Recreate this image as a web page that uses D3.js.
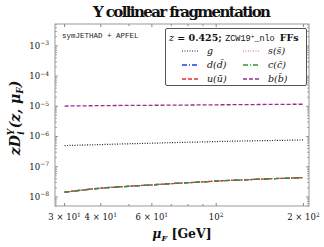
<!DOCTYPE html>
<html>
<head>
<meta charset="utf-8">
<script src="https://cdn.jsdelivr.net/npm/d3@7"></script>
<style>
  body { margin: 0; background: #fff; }
  svg { display: block; }
  .serif { font-family: "DejaVu Serif", "Liberation Serif", serif; }
  .mono { font-family: "Liberation Mono", "DejaVu Sans Mono", monospace; }
</style>
</head>
<body>
<div id="graphic"></div>
<script>
(function() {
  var W = 324, H = 247;
  var margin = { top: 24, left: 55, right: 15, bottom: 41 },
  width = W - margin.left - margin.right,
  height = H - margin.top - margin.bottom;

  /*** DATA ***/
  var muF = [30, 40, 50, 60, 70, 80, 90, 100, 120, 140, 160, 180, 200];
  var gluon = [5.0e-7, 5.4e-7, 5.75e-7, 6.0e-7, 6.25e-7, 6.45e-7, 6.6e-7, 6.8e-7, 7.05e-7, 7.25e-7, 7.4e-7, 7.55e-7, 7.7e-7];
  var lightQuark = [1.43e-8, 1.95e-8, 2.25e-8, 2.5e-8, 2.75e-8, 2.95e-8, 3.15e-8, 3.35e-8, 3.62e-8, 3.85e-8, 4.05e-8, 4.2e-8, 4.35e-8];
  var charm = [1.43e-8, 1.95e-8, 2.25e-8, 2.5e-8, 2.75e-8, 2.95e-8, 3.15e-8, 3.35e-8, 3.62e-8, 3.85e-8, 4.05e-8, 4.2e-8, 4.35e-8];
  var bottom = [1.02e-5, 1.05e-5, 1.07e-5, 1.08e-5, 1.09e-5, 1.10e-5, 1.11e-5, 1.12e-5, 1.13e-5, 1.145e-5, 1.155e-5, 1.165e-5, 1.17e-5];
  var xTickLabels = [[30, "3 × 10", "1"], [40, "4 × 10", "1"], [60, "6 × 10", "1"], [100, "10", "2"], [200, "2 × 10", "2"]];
  var yTickExps = [-8, -7, -6, -5, -4, -3];

  var series = [
    { name: "s", label: "s(s̄)", values: lightQuark, color: "#e06070", dash: "1,1.5", w: 1.2 },
    { name: "d", label: "d(d̄)", values: lightQuark, color: "#2a3bd8", dash: "5,2,1,2", w: 1.3 },
    { name: "u", label: "u(ū)", values: lightQuark, color: "#ee2a2a", dash: "4,2", w: 1.3 },
    { name: "c", label: "c(c̄)", values: charm, color: "#2c9a2c", dash: "5,2,1,2", w: 1.3 },
    { name: "b", label: "b(b̄)", values: bottom, color: "#9a2a9a", dash: "4,2", w: 1.3 },
    { name: "g", label: "g", values: gluon, color: "#222", dash: "1,1.5", w: 1.2 }
  ];

  var svg = d3.select("#graphic")
        .append("svg")
        .attr("width", W)
        .attr("height", H);
  var g = svg.append("g")
        .attr("transform", "translate(" + margin.left + "," + margin.top + ")");

  /*** SCALES ***/
  var x = d3.scaleLog().domain([27.8, 209]).range([0, width]);
  var y = d3.scaleLog().domain([5.0e-9, 5.3e-3]).range([height, 0]);

  /*** TICKS (inward, mirrored) ***/
  var tickColor = "#666";
  var xMinor = [30, 40, 50, 60, 70, 80, 90, 100, 200];
  xMinor.forEach(function(v) {
    var major = [30, 40, 60, 100, 200].indexOf(v) >= 0;
    var len = major ? 3 : 2;
    g.append("line").attr("x1", x(v)).attr("x2", x(v)).attr("y1", height).attr("y2", height - len)
      .attr("stroke", tickColor).attr("stroke-width", 0.8);
    g.append("line").attr("x1", x(v)).attr("x2", x(v)).attr("y1", 0).attr("y2", len)
      .attr("stroke", tickColor).attr("stroke-width", 0.8);
  });
  for (var e = -9; e <= -3; e++) {
    for (var m = 1; m <= 9; m++) {
      var v = m * Math.pow(10, e);
      if (v < y.domain()[0] || v > y.domain()[1]) continue;
      var len = m === 1 ? 3 : 1.8;
      g.append("line").attr("x1", 0).attr("x2", len).attr("y1", y(v)).attr("y2", y(v))
        .attr("stroke", tickColor).attr("stroke-width", 0.7);
      g.append("line").attr("x1", width).attr("x2", width - len).attr("y1", y(v)).attr("y2", y(v))
        .attr("stroke", tickColor).attr("stroke-width", 0.7);
    }
  }

  /*** FRAME ***/
  g.append("rect").attr("x", 0).attr("y", 0).attr("width", width).attr("height", height)
    .attr("fill", "none").attr("stroke", "#999").attr("stroke-width", 1);

  /*** TICK LABELS ***/
  xTickLabels.forEach(function(t) {
    var txt = g.append("text").attr("class", "serif")
      .attr("x", x(t[0])).attr("y", height + 14)
      .attr("text-anchor", "middle").attr("font-size", 8.5).attr("fill", "#111");
    txt.append("tspan").text(t[1]);
    txt.append("tspan").attr("dy", -3.5).attr("font-size", 6).text(t[2]);
  });
  yTickExps.forEach(function(p) {
    var txt = g.append("text").attr("class", "serif")
      .attr("x", -6).attr("y", y(Math.pow(10, p)) + 3)
      .attr("text-anchor", "end").attr("font-size", 8.5).attr("fill", "#111");
    txt.append("tspan").text("10");
    txt.append("tspan").attr("dy", -3.5).attr("font-size", 6).text("−" + Math.abs(p));
  });

  /*** LINES ***/
  var line = d3.line()
    .x(function(d, i) { return x(muF[i]); })
    .y(function(d) { return y(d); })
    .curve(d3.curveMonotoneX);

  series.forEach(function(s) {
    g.append("path")
      .attr("d", line(s.values))
      .attr("fill", "none")
      .attr("stroke", s.color)
      .attr("stroke-width", s.w)
      .attr("stroke-dasharray", s.dash);
  });

  /*** LEGEND ***/
  var lg = svg.append("g");
  lg.append("rect").attr("x", 165.5).attr("y", 28.5).attr("width", 141).attr("height", 57)
    .attr("rx", 1.5).attr("fill", "#fff").attr("stroke", "#555").attr("stroke-width", 1);
  var title = lg.append("text").attr("class", "serif").attr("x", 169).attr("y", 41)
    .attr("font-size", 9.5).attr("fill", "#111");
  title.append("tspan").attr("font-style", "italic").text("z");
  title.append("tspan").attr("font-weight", "bold").text(" = 0.425; ");
  title.append("tspan").attr("class", "mono").attr("font-size", 8.5).text("ZCW19");
  title.append("tspan").attr("class", "mono").attr("font-size", 6).attr("dy", -3.5).text("+");
  title.append("tspan").attr("class", "mono").attr("font-size", 8.5).attr("dy", 3.5).text("_nlo ");
  title.append("tspan").attr("font-weight", "bold").text("FFs");

  var legendOrder = [["g", "s"], ["d", "c"], ["u", "b"]];
  var rowY = [51, 65, 79];
  var colX = [182, 243];
  legendOrder.forEach(function(row, r) {
    row.forEach(function(name, c) {
      var s = series.filter(function(d) { return d.name === name; })[0];
      lg.append("line").attr("x1", colX[c]).attr("x2", colX[c] + 17)
        .attr("y1", rowY[r]).attr("y2", rowY[r])
        .attr("stroke", s.color).attr("stroke-width", s.w).attr("stroke-dasharray", s.dash);
      lg.append("text").attr("class", "serif")
        .attr("x", colX[c] + 25).attr("y", rowY[r] + 3)
        .attr("font-size", 9.5).attr("font-style", "italic").attr("fill", "#111")
        .text(s.label);
    });
  });

  /*** ANNOTATION ***/
  svg.append("text").attr("class", "mono")
    .attr("x", 62).attr("y", 38).attr("font-size", 7.5).attr("fill", "#222")
    .text("symJETHAD + APFEL");

  /*** TITLES ***/
  svg.append("text").attr("class", "serif")
    .attr("x", 182).attr("y", 17).attr("text-anchor", "middle")
    .attr("font-size", 15).attr("font-weight", "bold").attr("fill", "#111")
    .attr("textLength", 178).attr("lengthAdjust", "spacing")
    .text("Υ collinear fragmentation");

  var xl = svg.append("text").attr("class", "serif")
    .attr("x", 182).attr("y", 238).attr("text-anchor", "middle")
    .attr("font-size", 12.5).attr("font-weight", "bold").attr("fill", "#111");
  xl.append("tspan").attr("font-style", "italic").text("μ");
  xl.append("tspan").attr("font-style", "italic").attr("font-size", 8).attr("dy", 3).text("F");
  xl.append("tspan").attr("dy", -3).text(" [GeV]");

  var yl = svg.append("text").attr("class", "serif")
    .attr("transform", "translate(20,118) rotate(-90)")
    .attr("text-anchor", "middle")
    .attr("font-size", 14).attr("font-weight", "bold").attr("font-style", "italic").attr("fill", "#111");
  yl.append("tspan").text("zD");
  yl.append("tspan").attr("font-size", 9).attr("dy", -6).text("Υ");
  yl.append("tspan").attr("font-size", 9).attr("dx", -6).attr("dy", 10).text("i");
  yl.append("tspan").attr("dx", 3).attr("dy", -4).text("(z, μ");
  yl.append("tspan").attr("font-size", 9).attr("dy", 3).text("F");
  yl.append("tspan").attr("dy", -3).text(")");
})();
</script>
</body>
</html>
